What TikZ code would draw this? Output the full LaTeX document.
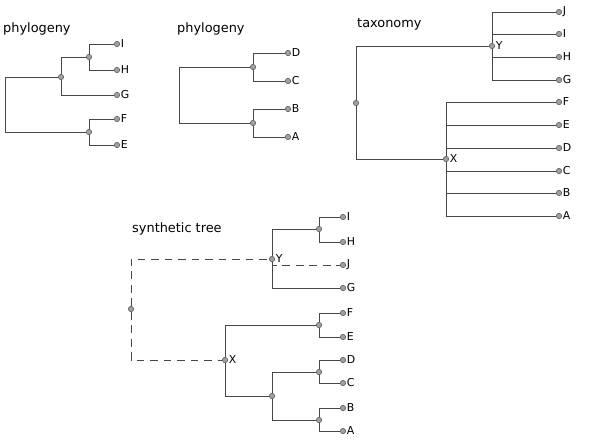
\documentclass[tikz,border=0pt]{standalone}
\usepackage{fontspec}
\setmainfont{DejaVu Sans}
\definecolor{edgegray}{HTML}{474747}
\definecolor{dotfill}{HTML}{A0A0A0}
\definecolor{dotline}{HTML}{5A5A5A}
\tikzset{
	branch/.style={draw=edgegray, line width=0.8pt},
	guess/.style={branch, dash pattern=on 6.5pt off 5pt},
	dot/.style={circle, draw=dotline, fill=dotfill, line width=0.5pt, inner sep=0pt, minimum size=4.6pt},
	leaf/.style={dot, label={[font=\fontsize{9.3}{11}\selectfont, inner sep=0.6pt]right:#1}},
	treetitle/.style={anchor=base west, inner sep=0pt, font=\fontsize{11}{13}\selectfont}
}
\begin{document}
\begin{tikzpicture}[x=0.03cm, y=-0.03cm]
	\useasboundingbox (0,0) rectangle (600,441);
	% Left phylogeny (I H G / F E)
	\node[treetitle] (titleA) at (3,32) {phylogeny};
	\foreach \name/\y in {I/44, H/70, G/95, F/119, E/145}{
		\node[leaf=\name] (pa\name) at (117,\y) {};
	}
	\coordinate (paRoot) at (5,105);
	\node[dot] (paIHG) at (61,77) {};
	\node[dot] (paIH) at (89,57) {};
	\node[dot] (paFE) at (89,132) {};
	\draw[branch] (paRoot) |- (paIHG);
	\draw[branch] (paRoot) |- (paFE);
	\draw[branch] (paIHG) |- (paIH);
	\draw[branch] (paIHG) |- (paG);
	\draw[branch] (paIH) |- (paI);
	\draw[branch] (paIH) |- (paH);
	\draw[branch] (paFE) |- (paF);
	\draw[branch] (paFE) |- (paE);
	% Middle phylogeny (D C / B A)
	\node[treetitle] (titleB) at (177,32) {phylogeny};
	\foreach \name/\y in {D/53, C/81, B/109, A/137}{
		\node[leaf=\name] (pb\name) at (288,\y) {};
	}
	\coordinate (pbRoot) at (179,96);
	\node[dot] (pbDC) at (253,67) {};
	\node[dot] (pbBA) at (253,123) {};
	\draw[branch] (pbRoot) |- (pbDC);
	\draw[branch] (pbRoot) |- (pbBA);
	\draw[branch] (pbDC) |- (pbD);
	\draw[branch] (pbDC) |- (pbC);
	\draw[branch] (pbBA) |- (pbB);
	\draw[branch] (pbBA) |- (pbA);
	% Taxonomy, two flat groups
	\node[treetitle] (titleC) at (357,27) {taxonomy};
	\foreach \name/\y in {J/12, I/34, H/57, G/80, F/102, E/125, D/148, C/171, B/193, A/216}{
		\node[leaf=\name] (tx\name) at (559,\y) {};
	}
	\node[dot] (txRoot) at (356,103) {};
	\node[leaf=Y] (txY) at (492,46) {};
	\node[leaf=X] (txX) at (446,159) {};
	\draw[branch] (txRoot) |- (txY);
	\draw[branch] (txRoot) |- (txX);
	\foreach \name in {J,I,H,G}{
		\draw[branch] (txY) |- (tx\name);
	}
	\foreach \name in {F,E,D,C,B,A}{
		\draw[branch] (txX) |- (tx\name);
	}
	% Synthetic tree, dashed where taxonomy is used
	\node[treetitle] (titleD) at (132,232) {synthetic tree};
	\foreach \name/\y in {I/217, H/242, J/265, G/288, F/313, E/337, D/360, C/383, B/408, A/431}{
		\node[leaf=\name] (st\name) at (343,\y) {};
	}
	\node[dot] (stRoot) at (131,309) {};
	\node[leaf=Y] (stY) at (272,259) {};
	\node[leaf=X] (stX) at (225,360) {};
	\node[dot] (stIH) at (319,229) {};
	\node[dot] (stFE) at (319,325) {};
	\node[dot] (stDCBA) at (272,396) {};
	\node[dot] (stDC) at (319,372) {};
	\node[dot] (stBA) at (319,420) {};
	\draw[guess] (stRoot) |- (stY);
	\draw[guess] (stRoot) |- (stX);
	\draw[guess] (stY) |- (stJ);
	\draw[branch] (stY) |- (stIH);
	\draw[branch] (stY) |- (stG);
	\draw[branch] (stIH) |- (stI);
	\draw[branch] (stIH) |- (stH);
	\draw[branch] (stX) |- (stFE);
	\draw[branch] (stX) |- (stDCBA);
	\draw[branch] (stFE) |- (stF);
	\draw[branch] (stFE) |- (stE);
	\draw[branch] (stDCBA) |- (stDC);
	\draw[branch] (stDCBA) |- (stBA);
	\draw[branch] (stDC) |- (stD);
	\draw[branch] (stDC) |- (stC);
	\draw[branch] (stBA) |- (stB);
	\draw[branch] (stBA) |- (stA);
\end{tikzpicture}
\end{document}
